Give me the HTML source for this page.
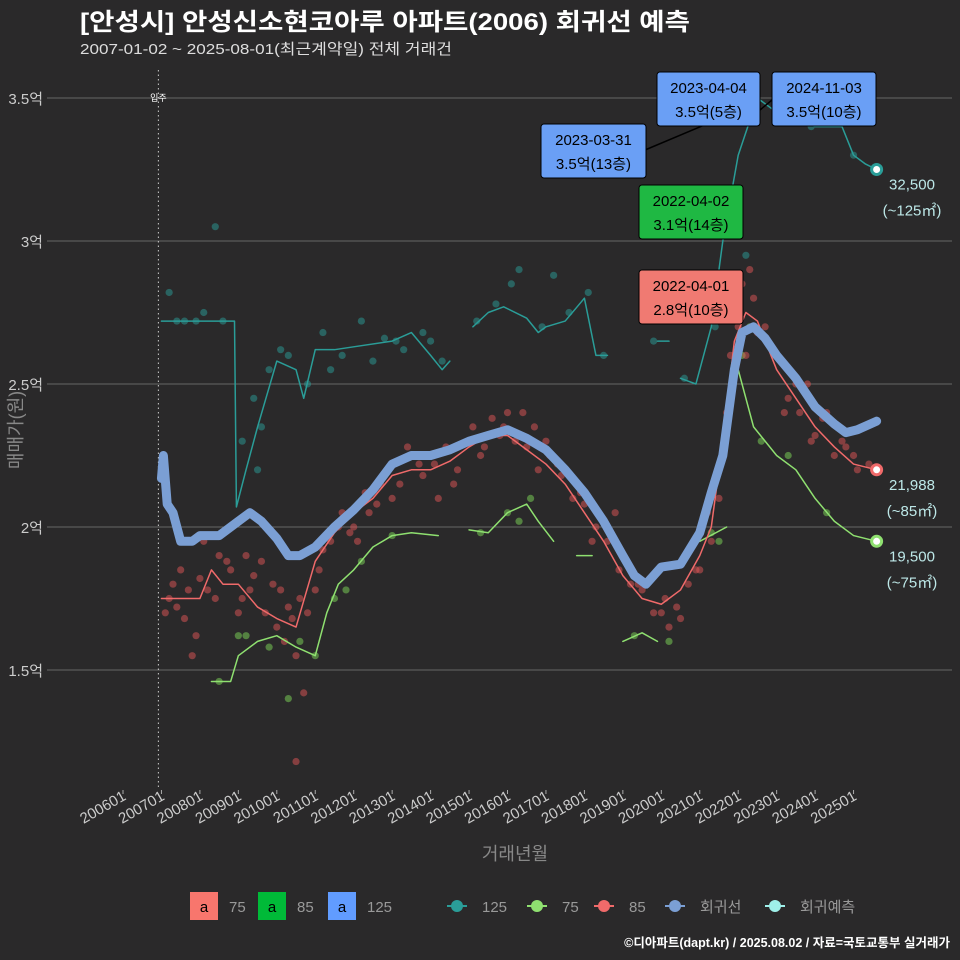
<!DOCTYPE html>
<html><head><meta charset="utf-8"><style>
body{margin:0;background:#2a292a;}
svg{display:block;font-family:"Liberation Sans","Noto Sans CJK KR",sans-serif;}
</style></head><body>
<svg id="c" width="960" height="960" viewBox="0 0 960 960">
<rect width="960" height="960" fill="#2a292a"/>
<text x="80" y="30" fill="#fff" font-size="24" font-weight="bold" textLength="610" lengthAdjust="spacingAndGlyphs">[안성시] 안성신소현코아루 아파트(2006) 회귀선 예측</text>
<text x="80" y="54" fill="#ddd" font-size="15" textLength="372" lengthAdjust="spacingAndGlyphs">2007-01-02 ~ 2025-08-01(최근계약일) 전체 거래건</text>
<g id="grid"></g><g id="marks"></g><g id="ann"></g>
<text transform="translate(22,430) rotate(-90)" text-anchor="middle" fill="#888" font-size="18">매매가(원)</text>
<text x="515" y="860" text-anchor="middle" fill="#888" font-size="18">거래년월</text>
<g id="legend" font-size="15"></g>
<text x="950" y="947" text-anchor="end" fill="#fff" font-size="12.5" font-weight="bold">©디아파트(dapt.kr) / 2025.08.02 / 자료=국토교통부 실거래가</text>
</svg>
<script>
const yTicks=[1.5,2,2.5,3,3.5];
const yTickLabels=["1.5억","2억","2.5억","3억","3.5억"];
const xTicks=[2006,2007,2008,2009,2010,2011,2012,2013,2014,2015,2016,2017,2018,2019,2020,2021,2022,2023,2024,2025];
const xTickLabels=["200601","200701","200801","200901","201001","201101","201201","201301","201401","201501","201601","201701","201801","201901","202001","202101","202201","202301","202401","202501"];
const regT=[2007.0,2007.05,2007.15,2007.3,2007.5,2007.8,2008,2008.5,2009,2009.3,2009.6,2010,2010.3,2010.6,2011,2011.5,2012,2012.5,2013,2013.5,2014,2014.5,2015,2015.5,2016,2016.5,2017,2017.5,2018,2018.5,2019,2019.3,2019.6,2020,2020.5,2021,2021.3,2021.6,2021.9,2022.1,2022.4,2022.7,2023,2023.5,2024,2024.5,2024.8,2025.1,2025.6];
const regV=[2.17,2.25,2.08,2.05,1.95,1.95,1.97,1.97,2.02,2.05,2.02,1.96,1.90,1.90,1.93,2.00,2.06,2.13,2.22,2.25,2.25,2.27,2.30,2.32,2.34,2.31,2.27,2.20,2.12,2.02,1.90,1.83,1.80,1.86,1.87,1.98,2.12,2.25,2.55,2.68,2.70,2.66,2.60,2.52,2.42,2.36,2.33,2.34,2.37];
const s125T=[[2007.0,2008.0,2008.9,2008.95,2009.2,2009.5,2010,2010.5,2010.7,2011,2011.5,2012,2013,2013.5,2014,2014.3,2014.5],[2015.1,2015.5,2015.9,2016.5,2016.8,2017,2017.5,2018,2018.3,2018.6],[2019.9,2020.2],[2020.5,2020.9,2021.3,2021.6,2022,2022.5,2023,2024,2024.7,2025,2025.3,2025.6]];
const s125V=[[2.72,2.72,2.72,2.07,2.2,2.35,2.58,2.55,2.45,2.62,2.62,2.63,2.65,2.68,2.60,2.55,2.58],[2.70,2.75,2.77,2.73,2.68,2.70,2.72,2.80,2.60,2.60],[2.65,2.65],[2.52,2.50,2.70,3.00,3.30,3.50,3.45,3.40,3.40,3.30,3.27,3.25]];
const s85T=[2007.0,2008.0,2008.3,2008.6,2009,2009.5,2010,2010.5,2011,2011.5,2012,2012.5,2013,2013.5,2014,2014.5,2015,2015.5,2016,2016.5,2017,2017.5,2018,2018.5,2019,2019.5,2020,2020.5,2021,2021.3,2021.6,2021.9,2022.2,2022.5,2023,2023.5,2024,2024.5,2025,2025.6];
const s85V=[1.75,1.75,1.85,1.80,1.80,1.72,1.68,1.65,1.88,1.98,2.05,2.10,2.18,2.20,2.20,2.23,2.28,2.32,2.32,2.27,2.22,2.15,2.05,1.95,1.83,1.75,1.73,1.78,1.90,2.00,2.30,2.65,2.75,2.72,2.55,2.45,2.35,2.28,2.22,2.20];
const s75T=[[2008.3,2008.8,2009,2009.5,2010,2010.5,2011,2011.3,2011.6,2012,2012.5,2013,2013.5,2014.2],[2015,2015.5,2016,2016.5,2016.8,2017.2],[2017.8,2018.2],[2019,2019.5,2019.9],[2021,2021.7],[2022,2022.4,2023,2023.5,2024,2024.5,2025,2025.6]];
const s75V=[[1.46,1.46,1.55,1.60,1.62,1.58,1.55,1.70,1.80,1.85,1.93,1.97,1.98,1.97],[1.99,1.98,2.05,2.08,2.02,1.95],[1.90,1.90],[1.60,1.63,1.60],[1.95,2.00],[2.55,2.35,2.25,2.20,2.10,2.02,1.97,1.95]];
const pts85T=[2007.1,2007.3,2007.6,2007.9,2008.2,2008.5,2008.8,2009.1,2009.4,2009.7,2010.0,2010.3,2010.5,2010.8,2011.1,2011.4,2011.7,2012.0,2012.3,2012.6,2012.9,2013.2,2013.5,2013.8,2014.1,2014.4,2014.7,2015.0,2015.3,2015.6,2015.9,2016.2,2016.5,2016.8,2017.1,2017.4,2017.7,2018.0,2018.3,2018.6,2018.9,2019.2,2019.5,2019.8,2020.1,2020.4,2020.7,2021.0,2021.3,2021.6,2021.9,2022.1,2022.4,2022.7,2023.0,2023.3,2023.6,2023.9,2024.2,2024.5,2024.8,2025.1,2025.4,2010.5,2007.8,2009.2,2012.1,2014.2,2016.4,2018.8,2020.2,2022.3,2023.8,
2007.2,2007.4,2007.5,2007.7,2008.0,2008.1,2008.4,2008.7,2009.0,2009.3,2009.6,2009.9,2010.1,2010.2,2010.4,2010.6,2010.7,2011.0,2011.2,2011.6,2011.9,2012.4,2012.7,2013.0,2013.4,2013.7,2014.0,2014.6,2015.1,2015.4,2015.8,2016.0,2016.7,2017.0,2017.3,2017.9,2018.2,2018.5,2019.0,2019.4,2019.7,2020.0,2020.5,2020.9,2021.2,2021.5,2021.7,2021.8,2022.0,2022.2,2022.5,2022.9,2023.2,2023.5,2024.0,2024.3,2024.7,2025.0];
const pts85V=[1.70,1.80,1.68,1.62,1.78,1.90,1.85,1.75,1.83,1.70,1.65,1.72,1.55,1.70,1.85,1.95,2.05,2.00,2.12,2.08,2.20,2.15,2.25,2.18,2.22,2.28,2.20,2.30,2.25,2.38,2.35,2.30,2.28,2.20,2.25,2.18,2.10,2.08,2.00,1.95,1.85,1.80,1.78,1.70,1.75,1.72,1.80,1.85,1.95,2.25,2.55,2.85,2.80,2.70,2.60,2.45,2.40,2.30,2.38,2.25,2.28,2.20,2.22,1.18,1.55,1.90,1.95,2.10,2.40,2.05,1.65,2.90,2.50,
1.75,1.72,1.85,1.78,1.82,1.95,1.75,1.88,1.70,1.78,1.88,1.80,1.78,1.60,1.68,1.75,1.42,1.78,1.92,2.00,1.98,2.05,2.15,2.10,2.28,2.22,2.25,2.15,2.35,2.28,2.32,2.40,2.35,2.30,2.22,2.12,1.95,2.02,1.90,1.80,1.82,1.70,1.68,1.85,2.05,2.10,2.40,2.60,2.70,2.60,2.68,2.62,2.40,2.50,2.32,2.40,2.30,2.25];
const pts125T=[2007.2,2007.6,2008.1,2008.6,2009.1,2009.4,2009.8,2010.3,2010.8,2011.2,2011.7,2012.2,2012.8,2013.3,2013.8,2014.3,2015.2,2015.7,2016.3,2016.9,2017.6,2018.1,2018.5,2019.8,2020.6,2021.4,2021.8,2022.2,2023.2,2023.9,2024.6,2025.0,2008.4,2009.5,2007.4,2007.9,2009.6,2010.1,2011.4,2012.5,2013.1,2014.0,2016.1,2017.2];
const pts125V=[2.82,2.72,2.75,2.72,2.30,2.45,2.55,2.60,2.50,2.68,2.60,2.72,2.66,2.62,2.68,2.58,2.72,2.78,2.90,2.70,2.75,2.82,2.60,2.65,2.52,2.70,2.85,2.95,3.45,3.40,3.42,3.30,3.05,2.20,2.72,2.72,2.35,2.62,2.55,2.58,2.65,2.65,2.85,2.88];
const pts75T=[2008.5,2009.2,2009.8,2010.3,2011.0,2011.5,2012.2,2013.0,2015.3,2016.0,2016.6,2019.3,2020.2,2021.3,2022.1,2022.6,2023.3,2024.3,2009.0,2010.6,2011.8,2016.3,2021.5,2022.3];
const pts75V=[1.46,1.62,1.58,1.40,1.55,1.75,1.88,1.97,1.98,2.05,2.10,1.62,1.60,1.98,2.60,2.30,2.25,2.05,1.62,1.60,1.78,2.02,1.95,2.70];

const X=t=>123+(t-2006)*38.45, Y=v=>527-(v-2)*286;
const NS="http://www.w3.org/2000/svg";
function mk(p,tag,a){const e=document.createElementNS(NS,tag);for(const k in a)e.setAttribute(k,a[k]);document.getElementById(p).appendChild(e);return e;}
const L=47,R=952,T=70,B=790;
yTicks.forEach((v,i)=>{
 const g=mk('grid','line',{x1:L,x2:R,y1:Y(v),y2:Y(v),stroke:'#666','stroke-width':1});
 
 
 const t=mk('grid','text',{x:L-4,y:Y(v)+6,'text-anchor':'end',fill:'#ccc','font-size':15});
 t.textContent=yTickLabels[i];
 
 
});
xTicks.forEach((v,i)=>{
 const g=mk('grid','line',{x1:X(v),x2:X(v),y1:B,y2:B+4,stroke:'#aaa'});
 
 
 const t=mk('grid','text',{transform:`translate(${X(v)+4},${B+9}) rotate(-30)`,'text-anchor':'end',fill:'#ccc','font-size':15});
 t.textContent=xTickLabels[i];
 
 
});
const vl=mk('grid','line',{x1:X(2006.92),x2:X(2006.92),y1:T,y2:B,stroke:'#ccc','stroke-dasharray':'1.5,3'});


const vt=mk('grid','text',{x:X(2006.92),y:101,'text-anchor':'middle',fill:'#fff','font-size':9});
vt.textContent='입주';


function pts(T_,V_,col,name){T_.forEach((t,i)=>{const c=mk('marks','circle',{cx:X(t),cy:Y(V_[i]),r:3.6,fill:col,'fill-opacity':0.5});
 
 });}
pts(pts125T,pts125V,'#2a9d98','point-125');
pts(pts75T,pts75V,'#7ed957','point-75');
pts(pts85T,pts85V,'#e05555','point-85');
function line(T_,V_,col,w,name){const p=mk('marks','polyline',{points:T_.map((t,i)=>X(t)+','+Y(V_[i])).join(' '),fill:'none',stroke:col,'stroke-width':w,'stroke-linejoin':'round','stroke-linecap':'round'});
 
 }
s125T.forEach((s,i)=>line(s,s125V[i],'#2a9d98',1.5,'line-125'));
s75T.forEach((s,i)=>line(s,s75V[i],'#8fe070',1.5,'line-75'));
line(s85T,s85V,'#f06a6a',1.5,'line-85');
line(regT,regV,'#7b9fd4',9,'regression-line');
[[2025.6,3.25,'#2a9d98','32,500','(~125㎡)'],[2025.6,2.20,'#f06a6a','21,988','(~85㎡)'],[2025.6,1.95,'#8fe070','19,500','(~75㎡)']].forEach(e=>{
 const c=mk('marks','circle',{cx:X(e[0]),cy:Y(e[1]),r:5,fill:'#fff',stroke:e[2],'stroke-width':3});
 
 
 const t1=mk('ann','text',{x:912,y:Y(e[1])+20,'text-anchor':'middle',fill:'#bde8e8','font-size':15});t1.textContent=e[3];
 
 
 const t2=mk('ann','text',{x:912,y:Y(e[1])+46,'text-anchor':'middle',fill:'#bde8e8','font-size':15});t2.textContent=e[4];
 
 
});
[[541,124,105,54,'#6a9ff5','2023-03-31','3.5억(13층)',[645,150,740,110]],[657,72,103,54,'#6a9ff5','2023-04-04','3.5억(5층)',null],[772,72,104,54,'#6a9ff5','2024-11-03','3.5억(10층)',[760,110,772,100]],[639,185,104,54,'#1fb843','2022-04-02','3.1억(14층)',null],[639,270,104,54,'#f07a72','2022-04-01','2.8억(10층)',null]].forEach(b=>{
 if(b[7]){const l=mk('ann','line',{x1:b[7][0],y1:b[7][1],x2:b[7][2],y2:b[7][3],stroke:'#000','stroke-width':1.5});
  
  }
 const r=mk('ann','rect',{x:b[0],y:b[1],width:b[2],height:b[3],rx:3,fill:b[4],stroke:'#000'});
 
 
 const t1=mk('ann','text',{x:b[0]+b[2]/2,y:b[1]+21,'text-anchor':'middle',fill:'#000','font-size':15});t1.textContent=b[5];
 
 
 const t2=mk('ann','text',{x:b[0]+b[2]/2,y:b[1]+45,'text-anchor':'middle',fill:'#000','font-size':15});t2.textContent=b[6];
 
 
});
[[190,'#f8766d','75'],[258,'#00ba38','85'],[328,'#619cff','125']].forEach(l=>{
 const r=mk('legend','rect',{x:l[0],y:892,width:28,height:28,fill:l[1]});
 
 
 const a=mk('legend','text',{x:l[0]+14,y:912,'text-anchor':'middle',fill:'#000'});a.textContent='a';
 
 
 const t=mk('legend','text',{x:l[0]+39,y:912,fill:'#999'});t.textContent=l[2];
 
 
});
[[457,'#2a9d98','125'],[537,'#8fe070','75'],[604,'#f06a6a','85'],[675,'#7b9fd4','회귀선'],[775,'#9ff0ea','회귀예측']].forEach(l=>{
 const ln=mk('legend','line',{x1:l[0]-10,x2:l[0]+10,y1:906,y2:906,stroke:l[1],'stroke-width':2});
 
 
 const c=mk('legend','circle',{cx:l[0],cy:906,r:6,fill:l[1]});
 
 
 const t=mk('legend','text',{x:l[0]+25,y:912,fill:'#999'});t.textContent=l[2];
 
 
});
</script>
</body></html>
